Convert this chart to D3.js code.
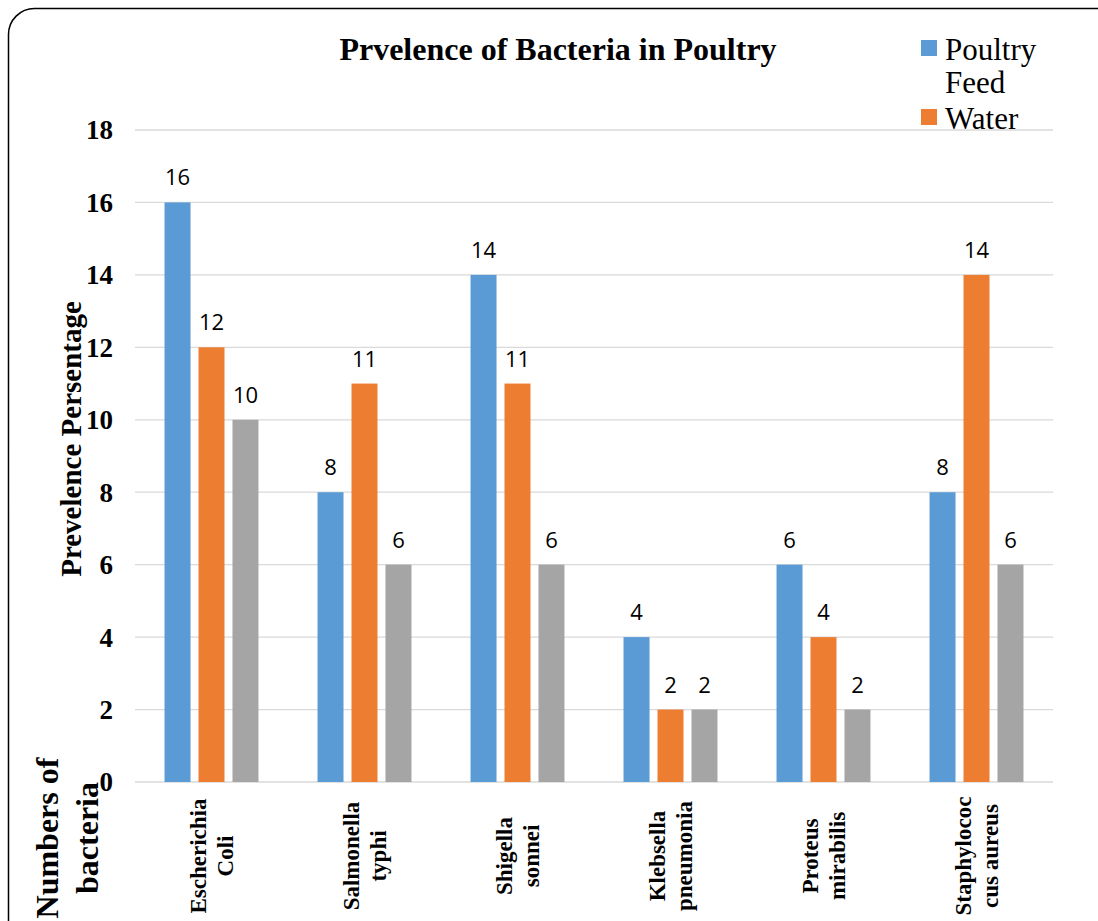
<!DOCTYPE html>
<html><head><meta charset="utf-8">
<script src="https://cdn.jsdelivr.net/npm/d3@7"></script>
<style>html,body{margin:0;padding:0;background:#fff;}svg{display:block;}</style>
</head><body>
<svg id="c" width="1098" height="921"></svg>
<script>
const categories = [["Escherichia","Coli"],["Salmonella","typhi"],["Shigella","sonnei"],["Klebsella","pneumonia"],["Proteus","mirabilis"],["Staphylococ","cus aureus"]];
const seriesNames = ["Poultry Feed","Water","Series 3"];
const poultryFeed = [16, 8, 14, 4, 6, 8];
const water = [12, 11, 11, 2, 4, 14];
const series3 = [10, 6, 6, 2, 2, 6];
const yTicks = [0, 2, 4, 6, 8, 10, 12, 14, 16, 18];
const colors = ["#5B9BD5", "#ED7D31", "#A5A5A5"];
const legendItems = [["Poultry","Feed"],["Water"]];

(function(){
const values = [poultryFeed, water, series3];
const svg = d3.select("#c");
const serif = "'Liberation Serif','Times New Roman','DejaVu Serif',serif";

// border
svg.append("rect").attr("x", 8.5).attr("y", 8.5).attr("width", 1120).attr("height", 940)
  .attr("rx", 26).attr("ry", 26).attr("fill", "none").attr("stroke", "#000").attr("stroke-width", 1.5);

const pL = 135, pR = 1053, pT = 130, pB = 782;
const x0 = d3.scaleBand().domain(d3.range(categories.length)).range([pL, pR]).paddingInner(0.386).paddingOuter(0.193);
const x1 = d3.scaleBand().domain(d3.range(3)).range([0, x0.bandwidth()]).paddingInner(0.235).paddingOuter(0);
const y = d3.scaleLinear().domain([0, 18]).range([pB, pT]);

// gridlines
svg.append("g").selectAll("line").data(yTicks).join("line")
  .attr("x1", pL).attr("x2", pR)
  .attr("y1", d => y(d)).attr("y2", d => y(d))
  .attr("stroke", "#D9D9D9").attr("stroke-width", 1.3);

// y tick labels
svg.append("g").selectAll("text").data(yTicks).join("text")
  .attr("x", 113).attr("y", d => y(d)).attr("dy", "0.35em")
  .attr("text-anchor", "end").attr("font-family", serif).attr("font-weight", "bold").attr("font-size", 27)
  .text(d => d);

// bars
const groups = svg.append("g").selectAll("g").data(categories).join("g")
  .attr("transform", (d, i) => `translate(${x0(i)},0)`);
groups.each(function(c, i) {
  const g = d3.select(this);
  const vals = values.map(v => v[i]);
  g.selectAll("rect").data(vals).join("rect")
    .attr("x", (d, j) => x1(j)).attr("width", x1.bandwidth())
    .attr("y", d => y(d)).attr("height", d => y(0) - y(d))
    .attr("fill", (d, j) => colors[j]);
  g.selectAll("text.v").data(vals).join("text").attr("class", "v")
    .attr("x", (d, j) => x1(j) + x1.bandwidth() / 2).attr("y", d => y(d) - 17)
    .attr("text-anchor", "middle").attr("font-family", "'Open Sans',sans-serif").attr("font-size", 22)
    .attr("fill", "#000").text(d => d);
});

// x category labels (rotated, two lines)
categories.forEach((c, i) => {
  const cx = x0(i) + x0.bandwidth() / 2;
  c.forEach((line, k) => {
    const lx = cx + (k === 0 ? -14 : 13);
    svg.append("text")
      .attr("transform", `translate(${lx},856) rotate(-90)`)
      .attr("text-anchor", "middle").attr("dy", "0.35em")
      .attr("font-family", serif).attr("font-weight", "bold").attr("font-size", 23)
      .text(line);
  });
});

// title
svg.append("text").attr("x", 558).attr("y", 60).attr("text-anchor", "middle")
  .attr("font-family", serif).attr("font-weight", "bold").attr("font-size", 32).text("Prvelence of Bacteria in Poultry");

// y title
svg.append("text").attr("transform", "translate(81,439) rotate(-90)").attr("text-anchor", "middle")
  .attr("font-family", serif).attr("font-weight", "bold").attr("font-size", 29).text("Prevelence Persentage");

// secondary label
["Numbers of", "bacteria"].forEach((t, k) => {
  svg.append("text").attr("transform", `translate(${58 + k * 40},838) rotate(-90)`).attr("text-anchor", "middle")
    .attr("font-family", serif).attr("font-weight", "bold").attr("font-size", 32).text(t);
});

// legend
const legY = [48, 117];
legendItems.forEach((lines, i) => {
  svg.append("rect").attr("x", 921).attr("y", legY[i] - 8).attr("width", 16).attr("height", 16).attr("fill", colors[i]);
  lines.forEach((t, k) => {
    svg.append("text").attr("x", 945).attr("y", legY[i] + 12 + k * 33)
      .attr("font-family", serif).attr("font-weight", "normal").attr("font-size", 31).text(t);
  });
});
})();
</script>
</body></html>
